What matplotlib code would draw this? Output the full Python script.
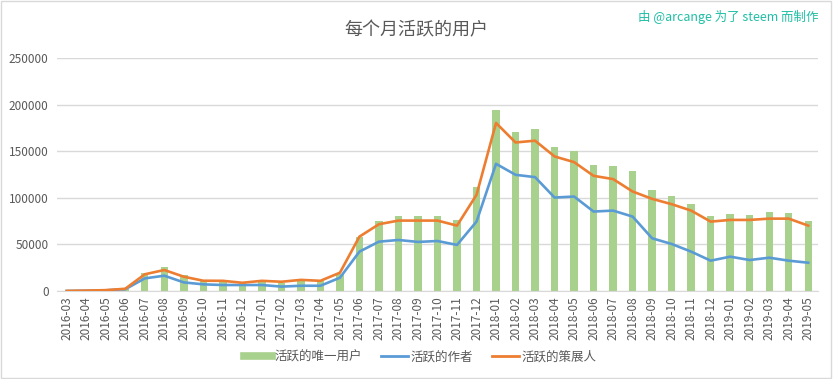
import matplotlib.pyplot as plt
from matplotlib.lines import Line2D
import numpy as np

plt.rcParams['font.family'] = ['Noto Sans CJK SC', 'DejaVu Sans']

months = ['2016-03', '2016-04', '2016-05', '2016-06', '2016-07', '2016-08', '2016-09', '2016-10',
          '2016-11', '2016-12', '2017-01', '2017-02', '2017-03', '2017-04', '2017-05', '2017-06',
          '2017-07', '2017-08', '2017-09', '2017-10', '2017-11', '2017-12', '2018-01', '2018-02',
          '2018-03', '2018-04', '2018-05', '2018-06', '2018-07', '2018-08', '2018-09', '2018-10',
          '2018-11', '2018-12', '2019-01', '2019-02', '2019-03', '2019-04', '2019-05']

# unique active users (bars)
unique_users = [200, 500, 1000, 2000, 19000, 26000, 17200, 11100, 11000, 8200, 10000, 9000,
                11000, 10500, 17900, 58400, 75200, 80600, 80600, 80600, 76300, 112100, 194600,
                170900, 174200, 154800, 150500, 135500, 134400, 129000, 108600, 102100, 93500,
                80600, 82800, 81700, 84900, 83800, 75200]
# active authors
authors = [100, 400, 800, 2000, 13600, 16500, 9300, 7200, 6500, 6500, 6500, 4800,
           5700, 5700, 14300, 42300, 53000, 54800, 52700, 53700, 49500, 74500, 136500,
           124700, 122200, 100300, 101400, 85300, 86300, 79900, 56600, 50500, 42300,
           32600, 36900, 33300, 35800, 32600, 30400]
# active curators
curators = [200, 500, 1000, 2500, 18000, 22600, 15400, 11100, 11000, 8900, 11000, 10000,
            12000, 11000, 19700, 58400, 71700, 75600, 75600, 75600, 70200, 103200, 180300,
            159400, 161300, 144400, 138300, 123600, 120100, 106800, 98900, 93200, 86300,
            74500, 76300, 76300, 77700, 77700, 70200]

text_color = '#595959'
green, blue, orange = '#a9d18e', '#5b9bd5', '#ed7d31'
x = np.arange(len(months))

fig = plt.figure(figsize=(8.33, 3.79), dpi=100)
ax = fig.add_axes([0.0684, 0.232, 0.9136, 0.615])

ax.bar(x, unique_users, width=0.38, color=green, zorder=2)
ax.plot(x, authors, color=blue, linewidth=1.9, zorder=3)
ax.plot(x, curators, color=orange, linewidth=1.9, zorder=4)

ax.set_xlim(-0.5, len(months) - 0.5)
ax.set_ylim(0, 250000)
ax.set_yticks(np.arange(0, 250001, 50000))
ax.yaxis.grid(True, color='#d9d9d9', linewidth=1)
ax.set_axisbelow(True)
for s in ['top', 'right', 'left']:
    ax.spines[s].set_visible(False)
ax.spines['bottom'].set_color('#d9d9d9')
ax.set_xticks(x)
ax.set_xticklabels(months, rotation=90, fontsize=8.5, color=text_color)
ax.tick_params(axis='both', length=0, labelsize=8.5, labelcolor=text_color)
ax.tick_params(axis='x', pad=4)
ax.tick_params(axis='y', pad=6)

fig.text(0.5, 0.92, '每个月活跃的用户', ha='center', va='center', fontsize=13,
         color=text_color, fontweight='light')
fig.text(0.982, 0.955, '由 @arcange 为了 steem 而制作', ha='right', va='center',
         fontsize=9, color='#1fbfa5')

handles = [Line2D([], [], color=green, linewidth=5.5),
           Line2D([], [], color=blue, linewidth=2),
           Line2D([], [], color=orange, linewidth=2)]
labels = ['活跃的唯一用户', '活跃的作者', '活跃的策展人']
fig.legend(handles, labels, loc='center', bbox_to_anchor=(0.505, 0.058), ncol=3, frameon=False,
           fontsize=9, labelcolor=text_color, handlelength=2.2, columnspacing=1.5,
           handletextpad=0.2)

fig.patches.append(plt.Rectangle((0.001, 0.002), 0.997, 0.995, transform=fig.transFigure,
                                 fill=False, edgecolor='#d9d9d9', linewidth=1))

fig.savefig('out.png', dpi=100)
